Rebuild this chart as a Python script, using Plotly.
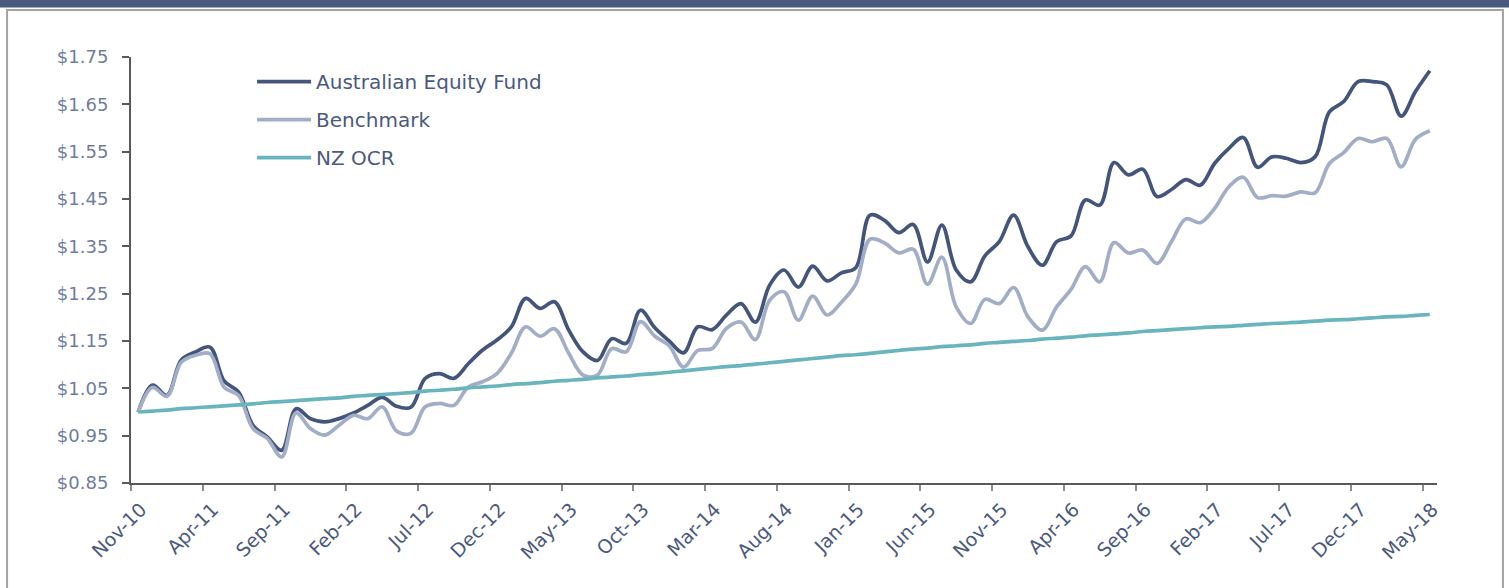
import pandas as pd
import plotly.graph_objects as go

# ---- data ----
months = [d.strftime("%b-%y") for d in pd.date_range("2010-11-01", "2018-05-01", freq="MS")]

fund = [1.000, 1.057, 1.035, 1.110, 1.127, 1.137, 1.065, 1.042, 0.972, 0.947,
        0.919, 1.007, 0.986, 0.979, 0.986, 0.998, 1.014, 1.031, 1.012, 1.010,
        1.071, 1.081, 1.071, 1.102, 1.131, 1.152, 1.180, 1.240, 1.219, 1.233,
        1.173, 1.127, 1.109, 1.155, 1.145, 1.215, 1.178, 1.150, 1.125, 1.180,
        1.174, 1.205, 1.229, 1.190, 1.268, 1.300, 1.264, 1.308, 1.277, 1.294,
        1.305, 1.416, 1.405, 1.379, 1.396, 1.317, 1.395, 1.300, 1.275, 1.330,
        1.360, 1.416, 1.349, 1.310, 1.360, 1.372, 1.448, 1.437, 1.527, 1.501,
        1.513, 1.455, 1.470, 1.491, 1.479, 1.525, 1.557, 1.580, 1.517, 1.539,
        1.536, 1.527, 1.539, 1.634, 1.656, 1.698, 1.698, 1.691, 1.625, 1.677,
        1.721]

benchmark = [1.000, 1.052, 1.033, 1.105, 1.120, 1.123, 1.052, 1.035, 0.965, 0.944,
             0.905, 0.998, 0.965, 0.951, 0.972, 0.993, 0.986, 1.011, 0.960, 0.955,
             1.011, 1.018, 1.014, 1.053, 1.064, 1.081, 1.124, 1.180, 1.160, 1.176,
             1.124, 1.078, 1.078, 1.134, 1.127, 1.191, 1.160, 1.140, 1.095, 1.130,
             1.134, 1.177, 1.190, 1.153, 1.236, 1.254, 1.194, 1.245, 1.205, 1.232,
             1.270, 1.365, 1.357, 1.336, 1.344, 1.270, 1.327, 1.222, 1.187, 1.238,
             1.229, 1.263, 1.201, 1.173, 1.222, 1.259, 1.307, 1.275, 1.358, 1.336,
             1.342, 1.314, 1.360, 1.408, 1.400, 1.430, 1.476, 1.496, 1.453, 1.457,
             1.456, 1.465, 1.463, 1.525, 1.548, 1.578, 1.571, 1.578, 1.518, 1.576,
             1.594]

nz_ocr = [1.000, 1.002, 1.004, 1.007, 1.009, 1.011, 1.013, 1.015, 1.017, 1.020,
          1.022, 1.024, 1.026, 1.028, 1.030, 1.033, 1.035, 1.037, 1.039, 1.041,
          1.044, 1.046, 1.048, 1.051, 1.053, 1.055, 1.058, 1.060, 1.062, 1.065,
          1.067, 1.069, 1.072, 1.074, 1.076, 1.079, 1.081, 1.084, 1.087, 1.090,
          1.093, 1.096, 1.098, 1.101, 1.104, 1.107, 1.110, 1.113, 1.116, 1.119,
          1.121, 1.124, 1.127, 1.130, 1.133, 1.135, 1.138, 1.140, 1.142, 1.145,
          1.147, 1.149, 1.151, 1.154, 1.156, 1.158, 1.161, 1.163, 1.165, 1.167,
          1.170, 1.172, 1.174, 1.176, 1.178, 1.180, 1.181, 1.183, 1.185, 1.187,
          1.188, 1.190, 1.192, 1.194, 1.195, 1.197, 1.199, 1.201, 1.202, 1.204,
          1.206]

y_ticks = [0.85, 0.95, 1.05, 1.15, 1.25, 1.35, 1.45, 1.55, 1.65, 1.75]
y_tick_labels = ["$%.2f" % v for v in y_ticks]

# ---- styling ----
FONT = "DejaVu Sans"
C_FUND = "#44557b"
C_BENCH = "#a2adc6"
C_OCR = "#6ab4be"
C_TEXT = "#4a5a7e"
C_YTEXT = "#6f7d9d"

x = list(range(len(months)))
tick_idx = list(range(0, len(months), 5))

fig = go.Figure()
for name, vals, col, grp in [("Australian Equity Fund", fund, C_FUND, "a"),
                             ("Benchmark", benchmark, C_BENCH, "b"),
                             ("NZ OCR", nz_ocr, C_OCR, "c")]:
    fig.add_trace(go.Scatter(
        x=x, y=vals, name=name, mode="lines", legendgroup=grp,
        line=dict(color=col, width=3.7, shape="spline", smoothing=1),
        customdata=months, hovertemplate="%{customdata}: %{y:.3f}<extra>" + name + "</extra>",
    ))

fig.update_layout(
    width=1509, height=588,
    margin=dict(l=131, r=72, t=57, b=105),
    paper_bgcolor="white", plot_bgcolor="white",
    font=dict(family=FONT, size=18, color=C_TEXT),
    showlegend=True,
    legend=dict(x=0.0927, y=0.988, xanchor="left", yanchor="top",
                bgcolor="rgba(0,0,0,0)", font=dict(family=FONT, size=20, color=C_TEXT),
                tracegroupgap=9, itemwidth=54),
    shapes=[
        dict(type="rect", xref="paper", yref="paper",
             x0=-0.0949, x1=1.0505, y0=-0.30, y1=1.1104,
             line=dict(color="#a3a3a3", width=2), fillcolor="rgba(0,0,0,0)", layer="below"),
        dict(type="rect", xref="paper", yref="paper",
             x0=-0.11, x1=1.06, y0=1.116, y1=1.2,
             line=dict(width=0), fillcolor="#4a5a7c", layer="below"),
    ],
)

fig.update_xaxes(
    range=[-0.5, len(months) - 0.5],
    tickvals=[i - 0.5 for i in tick_idx],
    ticktext=[months[i] for i in tick_idx],
    tickangle=-45,
    showgrid=False, zeroline=False,
    showline=True, linecolor="#595959", linewidth=2,
    ticks="outside", ticklen=6, tickcolor="#8c8c8c", tickwidth=1.5,
    tickfont=dict(family=FONT, size=19, color=C_TEXT),
    ticklabelshift=10,
)
fig.update_yaxes(
    range=[0.85, 1.75],
    tickvals=y_ticks, ticktext=y_tick_labels,
    showgrid=False, zeroline=False,
    showline=True, linecolor="#595959", linewidth=2,
    ticks="outside", ticklen=7, tickcolor="#595959", tickwidth=1.5,
    tickfont=dict(family=FONT, size=18, color=C_YTEXT),
    ticklabelstandoff=10,
)

fig.write_html("out.html", config={"displayModeBar": False},
               post_script="document.body.style.margin='0';document.body.style.overflow='hidden';")
